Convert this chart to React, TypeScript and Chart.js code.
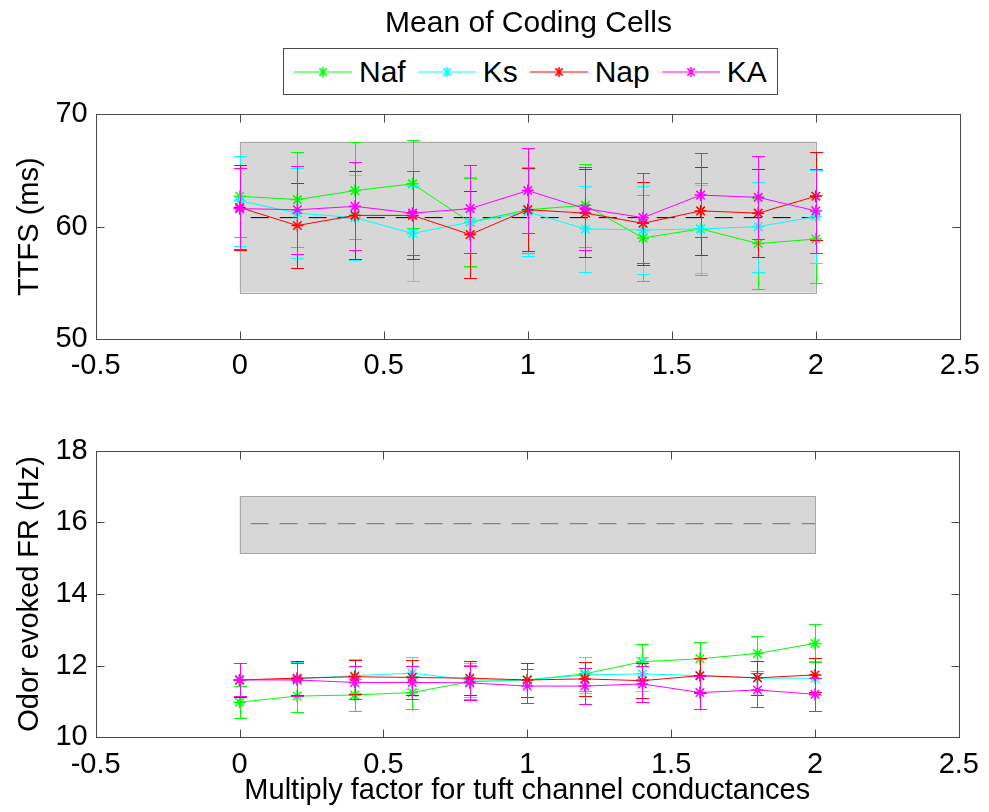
import React, { useEffect, useRef } from "react";
import { Chart, registerables } from "chart.js";

Chart.register(...registerables);

// ---------- data ----------
const xValues = [0, 0.2, 0.4, 0.6, 0.8, 1.0, 1.2, 1.4, 1.6, 1.8, 2.0];
const xTickLabels = ["-0.5", "0", "0.5", "1", "1.5", "2", "2.5"];
const seriesNames = ["Naf", "Ks", "Nap", "KA"];
const seriesColors = ["#00ff00", "#00ffff", "#ff0000", "#ff00ff"];

// TTFS (ms)
const nafTTFS = [62.7, 62.4, 63.2, 63.8, 60.4, 61.5, 61.9, 59.0, 59.8, 58.5, 58.9];
const nafTTFSErr = [3.6, 4.2, 4.3, 3.9, 3.9, 3.8, 3.7, 3.8, 4.1, 4.0, 3.9];
const ksTTFS = [62.3, 61.2, 60.8, 59.4, 60.4, 61.3, 59.8, 59.7, 59.8, 60.0, 60.9];
const ksTTFSErr = [4.0, 4.0, 3.8, 4.2, 4.0, 3.9, 3.8, 3.9, 3.9, 4.0, 4.1];
const napTTFS = [61.7, 60.1, 61.0, 61.0, 59.3, 61.5, 61.2, 60.3, 61.4, 61.2, 62.7];
const napTTFSErr = [3.8, 3.8, 3.9, 3.9, 3.9, 3.7, 3.9, 3.7, 3.9, 3.9, 3.9];
const kaTTFS = [61.6, 61.5, 61.8, 61.2, 61.6, 63.2, 61.6, 60.8, 62.8, 62.6, 61.4];
const kaTTFSErr = [3.6, 3.9, 3.9, 3.7, 3.9, 3.8, 3.7, 4.0, 3.7, 3.7, 3.7];
const ttfsBandLow = 54.15;
const ttfsBandHigh = 67.55;
const ttfsControl = 60.8;

// Odor evoked FR (Hz)
const nafFR = [10.98, 11.15, 11.18, 11.25, 11.55, 11.6, 11.77, 12.11, 12.19, 12.34, 12.62];
const nafFRErr = [0.45, 0.45, 0.45, 0.47, 0.47, 0.47, 0.48, 0.48, 0.48, 0.49, 0.53];
const ksFR = [11.6, 11.63, 11.72, 11.79, 11.6, 11.6, 11.74, 11.77, 11.72, 11.65, 11.65];
const ksFRErr = [0.46, 0.47, 0.47, 0.45, 0.47, 0.47, 0.49, 0.47, 0.47, 0.47, 0.47];
const napFR = [11.6, 11.65, 11.69, 11.67, 11.65, 11.6, 11.63, 11.58, 11.72, 11.66, 11.74];
const napFRErr = [0.48, 0.48, 0.47, 0.49, 0.48, 0.48, 0.48, 0.48, 0.48, 0.48, 0.47];
const kaFR = [11.6, 11.6, 11.53, 11.53, 11.52, 11.43, 11.43, 11.49, 11.25, 11.32, 11.2];
const kaFRErr = [0.46, 0.46, 0.46, 0.47, 0.47, 0.48, 0.49, 0.5, 0.47, 0.47, 0.46];
const frBandLow = 15.13;
const frBandHigh = 16.73;
const frControl = 15.96;

const titleText = "Mean of Coding Cells";
const topYLabel = "TTFS (ms)";
const bottomYLabel = "Odor evoked FR (Hz)";
const xLabel = "Multiply factor for tuft channel conductances";

const FONT = "'Liberation Sans', Arial, Helvetica, sans-serif";
const TICK_SIZE = 29;

// ---------- plugins ----------
const bandPlugin = {
  id: "band",
  beforeDatasetsDraw(chart: any, _args: any, opts: any) {
    const { ctx, scales } = chart;
    const x = scales.x;
    const y = scales.y;
    const x0 = x.getPixelForValue(opts.start);
    const x1 = x.getPixelForValue(opts.end);
    const yHi = y.getPixelForValue(opts.high);
    const yLo = y.getPixelForValue(opts.low);
    ctx.save();
    ctx.fillStyle = "#d7d7d7";
    ctx.fillRect(x0, yHi, x1 - x0, yLo - yHi);
    ctx.strokeStyle = "#a8a8a8";
    ctx.lineWidth = 1;
    ctx.strokeRect(Math.round(x0) + 0.5, Math.round(yHi) + 0.5, Math.round(x1 - x0), Math.round(yLo - yHi));
    ctx.restore();
  },
};

const errorBarPlugin = {
  id: "errorBars",
  afterDatasetDraw(chart: any, args: any) {
    const ds = chart.data.datasets[args.index];
    const errs = ds.errors;
    if (!errs) return;
    const { ctx, scales } = chart;
    const x = scales.x;
    const y = scales.y;
    ctx.save();
    ctx.setLineDash([]);
    ctx.strokeStyle = ds.barColor;
    ctx.lineWidth = 1;
    ds.data.forEach((p: any, i: number) => {
      const px = Math.round(x.getPixelForValue(p.x)) + 0.5;
      const yt = Math.round(y.getPixelForValue(p.y + errs[i])) + 0.5;
      const yb = Math.round(y.getPixelForValue(p.y - errs[i])) + 0.5;
      ctx.beginPath();
      ctx.moveTo(px, yt);
      ctx.lineTo(px, yb);
      ctx.moveTo(px - 6.5, yt);
      ctx.lineTo(px + 6.5, yt);
      ctx.moveTo(px - 6.5, yb);
      ctx.lineTo(px + 6.5, yb);
      ctx.stroke();
    });
    ctx.restore();
  },
};

const framePlugin = {
  id: "frame",
  afterDraw(chart: any) {
    const { ctx, chartArea, scales } = chart;
    const L = Math.round(chartArea.left) + 0.5;
    const R = Math.round(chartArea.right) + 0.5;
    const T = Math.round(chartArea.top) + 0.5;
    const B = Math.round(chartArea.bottom) + 0.5;
    ctx.save();
    ctx.strokeStyle = "#4a4a4a";
    ctx.lineWidth = 1;
    ctx.strokeRect(L, T, R - L, B - T);
    ctx.beginPath();
    const tl = 8;
    scales.x.ticks.forEach((t: any) => {
      const px = Math.round(scales.x.getPixelForValue(t.value)) + 0.5;
      ctx.moveTo(px, B);
      ctx.lineTo(px, B - tl);
      ctx.moveTo(px, T);
      ctx.lineTo(px, T + tl);
    });
    scales.y.ticks.forEach((t: any) => {
      const py = Math.round(scales.y.getPixelForValue(t.value)) + 0.5;
      ctx.moveTo(L, py);
      ctx.lineTo(L + tl, py);
      ctx.moveTo(R, py);
      ctx.lineTo(R - tl, py);
    });
    ctx.stroke();
    ctx.restore();
  },
};

function seriesDatasets(values: number[][], errors: number[][]) {
  return values.map((vals, s) => ({
    type: "line",
    label: seriesNames[s],
    data: xValues.map((x, i) => ({ x, y: vals[i] })),
    errors: errors[s],
    barColor: seriesColors[s],
    borderColor: seriesColors[s],
    backgroundColor: seriesColors[s],
    borderWidth: 1,
    pointStyle: "star",
    pointRadius: 6,
    pointBorderWidth: 1.5,
    pointBorderColor: seriesColors[s],
    pointBackgroundColor: seriesColors[s],
    tension: 0,
    fill: false,
    order: 4 - s,
  }));
}

function controlDataset(value: number, color: string) {
  return {
    type: "line",
    label: "control",
    data: [
      { x: xValues[0], y: value },
      { x: xValues[xValues.length - 1], y: value },
    ],
    borderColor: color,
    borderWidth: 1,
    borderDash: [18, 11],
    borderDashOffset: 18,
    pointRadius: 0,
    fill: false,
    order: 10,
  };
}

function makeConfig(o: {
  datasets: any[];
  yMin: number;
  yMax: number;
  yStep: number;
  yTitle: string;
  xTitle?: string;
  padTop: number;
  xAxisHeight: number;
  xTickPad: number;
  band: { low: number; high: number };
}) {
  return {
    type: "line",
    data: { datasets: o.datasets },
    plugins: [bandPlugin, errorBarPlugin, framePlugin],
    options: {
      animation: false,
      responsive: false,
      maintainAspectRatio: false,
      layout: { padding: { top: o.padTop, right: 24, left: 0, bottom: 0 } },
      plugins: {
        legend: { display: false },
        tooltip: { enabled: false },
        title: { display: false },
        band: {
          start: xValues[0],
          end: xValues[xValues.length - 1],
          low: o.band.low,
          high: o.band.high,
        },
      },
      scales: {
        x: {
          type: "linear",
          min: -0.5,
          max: 2.5,
          grid: { display: false, drawTicks: false },
          border: { display: false },
          ticks: {
            stepSize: 0.5,
            color: "#000",
            font: { family: FONT, size: TICK_SIZE },
            padding: o.xTickPad,
            maxRotation: 0,
            autoSkip: false,
            callback: (_v: any, i: number) => xTickLabels[i],
          },
          title: o.xTitle
            ? {
                display: true,
                text: o.xTitle,
                color: "#000",
                font: { family: FONT, size: TICK_SIZE },
                padding: { top: 0, bottom: 4 },
              }
            : { display: false },
          afterFit: (s: any) => {
            s.height = o.xAxisHeight;
          },
        },
        y: {
          type: "linear",
          min: o.yMin,
          max: o.yMax,
          grid: { display: false, drawTicks: false },
          border: { display: false },
          ticks: {
            stepSize: o.yStep,
            color: "#000",
            font: { family: FONT, size: TICK_SIZE },
            padding: 8,
          },
          title: {
            display: true,
            text: o.yTitle,
            color: "#000",
            font: { family: FONT, size: TICK_SIZE },
            padding: { top: 12.6, bottom: 0 },
          },
          afterFit: (s: any) => {
            s.width = 95.7;
          },
        },
      },
    },
  };
}

function Star({ color }: { color: string }) {
  const cx = 29;
  const cy = 10;
  const r = 5;
  const d = r * 0.72;
  return (
    <svg width={58} height={20} style={{ display: "block" }}>
      <line x1={0} y1={cy} x2={58} y2={cy} stroke={color} strokeWidth={1} />
      <g stroke={color} strokeWidth={1.5}>
        <line x1={cx} y1={cy - r} x2={cx} y2={cy + r} />
        <line x1={cx - d} y1={cy - d} x2={cx + d} y2={cy + d} />
        <line x1={cx - d} y1={cy + d} x2={cx + d} y2={cy - d} />
      </g>
    </svg>
  );
}

export default function App() {
  const topRef = useRef<HTMLCanvasElement | null>(null);
  const botRef = useRef<HTMLCanvasElement | null>(null);

  useEffect(() => {
    Chart.defaults.font.family = FONT;
    const top = new Chart(
      topRef.current as HTMLCanvasElement,
      makeConfig({
        datasets: [
          ...seriesDatasets([nafTTFS, ksTTFS, napTTFS, kaTTFS], [nafTTFSErr, ksTTFSErr, napTTFSErr, kaTTFSErr]),
          controlDataset(ttfsControl, "#000000"),
        ],
        yMin: 50,
        yMax: 70,
        yStep: 10,
        yTitle: topYLabel,
        padTop: 114,
        xAxisHeight: 60.7,
        xTickPad: 9,
        band: { low: ttfsBandLow, high: ttfsBandHigh },
      }) as any
    );
    const bottom = new Chart(
      botRef.current as HTMLCanvasElement,
      makeConfig({
        datasets: [
          ...seriesDatasets([nafFR, ksFR, napFR, kaFR], [nafFRErr, ksFRErr, napFRErr, kaFRErr]),
          controlDataset(frControl, "#707070"),
        ],
        yMin: 10,
        yMax: 18,
        yStep: 2,
        yTitle: bottomYLabel,
        xTitle: xLabel,
        padTop: 50.6,
        xAxisHeight: 74.7,
        xTickPad: 10,
        band: { low: frBandLow, high: frBandHigh },
      }) as any
    );
    return () => {
      top.destroy();
      bottom.destroy();
    };
  }, []);

  return (
    <div
      style={{
        position: "fixed",
        left: 0,
        top: 0,
        width: 989,
        height: 812,
        background: "#fff",
        fontFamily: FONT,
        overflow: "hidden",
      }}
    >
      <canvas ref={topRef} width={989} height={400} style={{ position: "absolute", left: 0, top: 0 }} />
      <canvas ref={botRef} width={989} height={412} style={{ position: "absolute", left: 0, top: 400 }} />
      <div
        style={{
          position: "absolute",
          left: 0,
          top: 7,
          width: 1057,
          textAlign: "center",
          fontSize: 30,
          lineHeight: "30px",
          color: "#000",
          whiteSpace: "nowrap",
        }}
      >
        {titleText}
      </div>
      <div
        style={{
          position: "absolute",
          left: 283,
          top: 48,
          width: 483,
          height: 45,
          border: "1px solid #4a4a4a",
          background: "#fff",
          display: "flex",
          alignItems: "center",
          paddingLeft: 10,
          boxSizing: "content-box",
        }}
      >
        {seriesNames.map((name, i) => (
          <div key={name} style={{ display: "flex", alignItems: "center", marginRight: 12 }}>
            <Star color={seriesColors[i]} />
            <span style={{ marginLeft: 7, fontSize: 30, lineHeight: "30px", color: "#000" }}>{name}</span>
          </div>
        ))}
      </div>
    </div>
  );
}
